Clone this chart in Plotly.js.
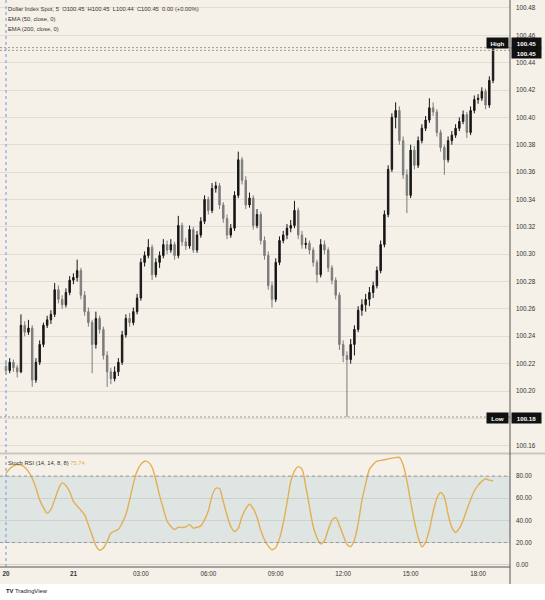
<!DOCTYPE html>
<html><head><meta charset="utf-8">
<script src="https://cdn.plot.ly/plotly-3.0.1.min.js"></script>
<style>html,body{margin:0;padding:0;background:#f5f1e8;} #chart{width:545px;height:600px;}</style>
</head><body><div id="chart"></div>
<script>
// 10-minute bars starting 2025-01-20 21:00
const barMinutes = 10;
const opens = [100.218,100.215,100.221,100.217,100.214,100.248,100.243,100.246,100.208,100.221,
 100.234,100.248,100.252,100.256,100.274,100.267,100.263,100.272,100.281,100.283,
 100.288,100.270,100.258,100.250,100.234,100.253,100.245,100.226,100.214,100.209,
 100.214,100.221,100.241,100.253,100.250,100.258,100.268,100.294,100.299,100.305,
 100.285,100.294,100.299,100.307,100.303,100.307,100.299,100.321,100.309,100.306,
 100.318,100.303,100.314,100.324,100.340,100.332,100.348,100.350,100.336,100.326,
 100.314,100.319,100.343,100.369,100.354,100.336,100.341,100.321,100.329,100.310,
 100.299,100.277,100.267,100.294,100.310,100.314,100.319,100.321,100.332,100.314,
 100.307,100.308,100.303,100.294,100.285,100.307,100.303,100.290,100.281,100.270,
 100.234,100.226,100.223,100.234,100.245,100.259,100.263,100.267,100.272,100.277,
 100.288,100.307,100.329,100.362,100.400,100.405,100.383,100.358,100.343,100.376,
 100.365,100.383,100.392,100.398,100.407,100.404,100.389,100.378,100.369,100.383,
 100.387,100.392,100.397,100.402,100.389,100.405,100.413,100.414,100.419,100.409,
 100.427];
const highs = [100.222,100.224,100.223,100.219,100.256,100.251,100.252,100.248,100.224,100.237,
 100.250,100.255,100.259,100.279,100.277,100.270,100.275,100.284,100.286,100.296,
 100.290,100.273,100.261,100.252,100.258,100.255,100.247,100.229,100.217,100.218,
 100.224,100.244,100.256,100.257,100.261,100.271,100.297,100.302,100.311,100.307,
 100.297,100.302,100.311,100.310,100.311,100.309,100.328,100.323,100.312,100.321,
 100.320,100.317,100.327,100.343,100.342,100.352,100.353,100.352,100.338,100.329,
 100.322,100.346,100.375,100.371,100.357,100.345,100.343,100.333,100.331,100.313,
 100.302,100.280,100.297,100.313,100.317,100.322,100.325,100.339,100.334,100.317,
 100.312,100.310,100.305,100.296,100.311,100.310,100.305,100.292,100.283,100.272,
 100.237,100.229,100.238,100.248,100.262,100.267,100.271,100.276,100.280,100.291,
 100.310,100.332,100.365,100.403,100.411,100.408,100.386,100.362,100.380,100.379,
 100.386,100.395,100.401,100.414,100.411,100.406,100.391,100.380,100.386,100.390,
 100.395,100.400,100.405,100.404,100.408,100.416,100.417,100.422,100.421,100.430,
 100.451];
const lows = [100.212,100.213,100.214,100.210,100.213,100.240,100.241,100.203,100.206,100.219,
 100.232,100.246,100.249,100.254,100.264,100.260,100.261,100.270,100.278,100.280,
 100.267,100.255,100.247,100.213,100.231,100.242,100.223,100.203,100.205,100.207,
 100.211,100.219,100.239,100.247,100.248,100.256,100.266,100.291,100.297,100.281,
 100.283,100.290,100.297,100.300,100.301,100.296,100.297,100.306,100.303,100.304,
 100.301,100.301,100.312,100.322,100.329,100.330,100.345,100.333,100.323,100.311,
 100.312,100.317,100.341,100.351,100.333,100.334,100.318,100.319,100.307,100.296,
 100.274,100.261,100.265,100.292,100.308,100.311,100.316,100.319,100.311,100.304,
 100.304,100.300,100.291,100.279,100.283,100.300,100.287,100.278,100.267,100.230,
 100.221,100.181,100.220,100.226,100.243,100.255,100.258,100.262,100.268,100.275,
 100.286,100.305,100.327,100.360,100.392,100.380,100.355,100.330,100.341,100.362,
 100.363,100.381,100.390,100.396,100.401,100.386,100.375,100.358,100.367,100.380,
 100.385,100.390,100.395,100.385,100.387,100.403,100.410,100.412,100.406,100.407,
 100.425];
const closes = [100.215,100.221,100.217,100.214,100.248,100.243,100.246,100.208,100.221,100.234,
 100.248,100.252,100.256,100.274,100.267,100.263,100.272,100.281,100.283,100.288,
 100.270,100.258,100.250,100.234,100.253,100.245,100.226,100.214,100.209,100.214,
 100.221,100.241,100.253,100.250,100.258,100.268,100.294,100.299,100.305,100.285,
 100.294,100.299,100.307,100.303,100.307,100.299,100.321,100.309,100.306,100.318,
 100.303,100.314,100.324,100.340,100.332,100.348,100.350,100.336,100.326,100.314,
 100.319,100.343,100.369,100.354,100.336,100.341,100.321,100.329,100.310,100.299,
 100.277,100.267,100.294,100.310,100.314,100.319,100.321,100.332,100.314,100.307,
 100.308,100.303,100.294,100.285,100.307,100.303,100.290,100.281,100.270,100.234,
 100.226,100.223,100.234,100.245,100.259,100.263,100.267,100.272,100.277,100.288,
 100.307,100.329,100.362,100.400,100.405,100.383,100.358,100.343,100.376,100.365,
 100.383,100.392,100.398,100.407,100.404,100.389,100.378,100.369,100.383,100.387,
 100.392,100.397,100.402,100.389,100.405,100.413,100.414,100.419,100.409,100.427,
 100.450];
const stochK = [82.4,86.6,89.2,90.4,90.0,88.0,84.0,78.0,69.2,58.5,
 51.5,46.5,50.0,58.5,68.2,73.8,71.5,66.0,57.2,53.0,
 49.2,45.0,36.0,26.5,17.2,13.0,15.0,21.0,28.4,30.2,
 31.9,37.5,45.0,58.5,73.0,84.5,90.5,93.4,92.5,88.0,
 76.7,62.5,50.5,39.4,34.5,31.8,33.8,33.6,34.2,36.2,
 33.0,33.8,35.0,40.5,48.5,62.0,69.0,68.5,57.0,44.5,
 34.5,30.0,33.0,43.5,50.5,54.5,50.5,42.9,31.0,22.5,
 16.8,13.5,15.5,23.5,37.5,55.5,75.0,84.5,88.5,86.2,
 71.0,52.5,34.5,24.5,18.8,21.8,31.5,40.0,42.5,35.5,
 26.5,18.5,16.3,22.5,37.0,58.0,73.0,86.0,90.5,93.4,
 94.1,94.7,95.5,96.2,96.6,96.9,90.0,75.8,57.0,39.0,
 24.8,16.2,20.4,31.5,47.5,60.0,65.2,61.0,45.5,33.7,
 29.3,32.9,40.0,49.6,58.6,66.5,71.6,75.2,77.6,76.3,
 75.74];

const tickTimes = ['2025-01-20 21:00','2025-01-21 00:00','2025-01-21 03:00','2025-01-21 06:00',
 '2025-01-21 09:00','2025-01-21 12:00','2025-01-21 15:00','2025-01-21 18:00'];
const tickLabels = ['<b>20</b>','<b>21</b>','03:00','06:00','09:00','12:00','15:00','18:00'];
const priceTicks = [100.16,100.18,100.20,100.22,100.24,100.26,100.28,100.30,100.32,100.34,100.36,100.38,100.40,100.42,100.44,100.46,100.48];
const stochTicks = [0,20,40,60,80];
const stochBand = [20,80];
const legendLines = ['Dollar Index Spot, 5\u00a0\u00a0O100.45\u00a0\u00a0H100.45\u00a0\u00a0L100.44\u00a0\u00a0C100.45\u00a0\u00a00.00 (+0.00%)',
 'EMA (50, close, 0)','EMA (200, close, 0)'];
const highPrice = 100.451, lastPrice = 100.449, lowPrice = 100.181;
const highLabel = '100.45', lastLabel = '100.45', lowLabel = '100.18';
const stochLabel = 'Stoch RSI (14, 14, 8, 8)';
const stochLast = '75.74';

function pad(n){return String(n).padStart(2,'0');}
const t0 = Date.UTC(2025,0,20,21,0);
const times = closes.map((_,i)=>{const d=new Date(t0+i*barMinutes*60000);
  return d.getUTCFullYear()+'-'+pad(d.getUTCMonth()+1)+'-'+pad(d.getUTCDate())+' '+pad(d.getUTCHours())+':'+pad(d.getUTCMinutes());});

const BG = '#f5f1e8';
const ORANGE = '#e4ae55';
const H = 567; // plot height in px
const py = p => 1 - p/H;

const traces = [
 {type:'candlestick', x:times, open:opens, high:highs, low:lows, close:closes, xaxis:'x', yaxis:'y',
  increasing:{line:{color:'#161616', width:1}, fillcolor:'#161616'},
  decreasing:{line:{color:'#7c7c7c', width:1}, fillcolor:'#7c7c7c'},
  whiskerwidth:0, hoverinfo:'skip'},
 {type:'scatter', mode:'lines', x:times, y:stochK, xaxis:'x', yaxis:'y2',
  line:{color:ORANGE, width:1.4, shape:'spline', smoothing:0.8}, hoverinfo:'skip'}
];

const badge = (txt, x, xanchor, y, ys, w) => ({xref:'paper', yref:'y', x:x, y:y, yshift:ys, xanchor:xanchor, yanchor:'middle',
  text:txt, showarrow:false, bgcolor:'#111111', borderpad:1.5, width:w,
  font:{family:'Liberation Sans, Arial, sans-serif', size:6.2, color:'#ffffff'}});

const layout = {
 width:545, height:600,
 margin:{l:0, r:35, t:0, b:33},
 paper_bgcolor:BG, plot_bgcolor:BG,
 showlegend:false,
 boxgap:0.45,
 font:{family:'Liberation Sans, Arial, sans-serif', size:6.3, color:'#333333'},
 xaxis:{type:'date', range:['2025-01-20 20:44:06','2025-01-21 19:25:12'], anchor:'y2',
  tickvals:tickTimes, ticktext:tickLabels, showgrid:false, zeroline:false, showline:false, ticks:'',
  ticklabelstandoff:2,
  rangeslider:{visible:false}, tickfont:{size:6.3, color:'#333333'}, fixedrange:true},
 yaxis:{domain:[0.2028,1], range:[100.1554,100.4858], side:'right', tickvals:priceTicks, tickformat:'.2f',
  gridcolor:'#e2ddd2', gridwidth:1, zeroline:false, showline:false, ticks:'', ticklabelstandoff:5,
  tickfont:{size:6.3, color:'#333333'}},
 yaxis2:{domain:[0,0.1975], range:[-2.1,99], side:'right', tickvals:stochTicks, tickformat:'.2f',
  gridcolor:'#cdd2ce', gridwidth:1, zeroline:false, showline:false, ticks:'', ticklabelstandoff:5,
  tickfont:{size:6.3, color:'#333333'}},
 shapes:[
  {type:'rect', xref:'paper', yref:'y2', x0:0, x1:1, y0:stochBand[0], y1:stochBand[1], fillcolor:'#dfe5e2', line:{width:0}, layer:'below'},
  {type:'line', xref:'paper', yref:'y2', x0:0, x1:1, y0:stochBand[1], y1:stochBand[1], line:{color:'#9a9a9a', width:1, dash:'3px,3px'}},
  {type:'line', xref:'paper', yref:'y2', x0:0, x1:1, y0:stochBand[0], y1:stochBand[0], line:{color:'#9a9a9a', width:1, dash:'3px,3px'}},
  {type:'line', xref:'paper', yref:'y', x0:0, x1:1, y0:highPrice, y1:highPrice, line:{color:'#a09a90', width:1, dash:'2px,2px'}},
  {type:'line', xref:'paper', yref:'y', x0:0, x1:1, y0:lastPrice, y1:lastPrice, line:{color:'#a09a90', width:1, dash:'2px,2px'}},
  {type:'line', xref:'paper', yref:'y', x0:0, x1:1, y0:lowPrice, y1:lowPrice, line:{color:'#a09a90', width:1, dash:'2px,2px'}},
  {type:'line', xref:'x', yref:'paper', x0:times[0], x1:times[0], y0:0, y1:1, line:{color:'#6f9bd6', width:1, dash:'3px,3px'}},
  {type:'line', xref:'paper', yref:'paper', x0:0, x1:545/510, y0:py(453.5), y1:py(453.5), line:{color:'#cdc8bd', width:2}},
  {type:'rect', xref:'paper', yref:'paper', x0:0, x1:545/510, y0:py(600), y1:py(584), fillcolor:'#ffffff', line:{width:0}},
  {type:'line', xref:'paper', yref:'paper', x0:0, x1:1, y0:0, y1:0, line:{color:'#555555', width:1}},
  {type:'line', xref:'paper', yref:'paper', x0:1, x1:1, y0:py(584), y1:1, line:{color:'#555555', width:1}}
 ],
 annotations:[
  ...legendLines.map((t,k)=>({xref:'paper', yref:'paper', x:0, xshift:6, y:py(9+10*k), xanchor:'left', yanchor:'middle',
     text:t, showarrow:false, font:{size:5.8, color:'#333333'}})),
  {xref:'paper', yref:'paper', x:0, xshift:6, y:py(463), xanchor:'left', yanchor:'middle', showarrow:false,
   text:stochLabel+' <span style="color:'+ORANGE+'">'+stochLast+'</span>', font:{size:5.8, color:'#333333'}},
  badge('<b>High</b>', 509/510, 'right', highPrice, 5, 18),
  badge('<b>'+highLabel+'</b>', 511/510, 'left', highPrice, 5, 26),
  badge('<b>'+lastLabel+'</b>', 511/510, 'left', lastPrice, -3, 26),
  badge('<b>Low</b>', 509/510, 'right', lowPrice, -1.4, 18),
  badge('<b>'+lowLabel+'</b>', 511/510, 'left', lowPrice, -1.4, 26),
  {xref:'paper', yref:'paper', x:0, xshift:4, y:py(591), xanchor:'left', yanchor:'middle', showarrow:false,
   text:'<b>TV</b> TradingView', font:{size:5.8, color:'#131722'}}
 ]
};

Plotly.newPlot('chart', traces, layout, {staticPlot:true, displayModeBar:false});
</script>
</body></html>
